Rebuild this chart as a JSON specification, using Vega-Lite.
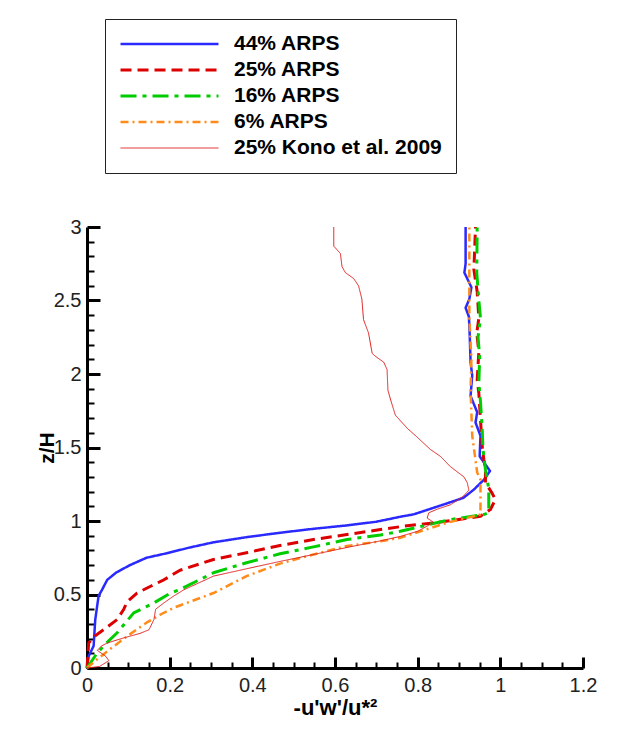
{
  "$schema": "https://vega.github.io/schema/vega-lite/v6.json",
  "width": 496,
  "height": 441,
  "autosize": "none",
  "padding": {"left": 87, "top": 227, "right": 51, "bottom": 61},
  "background": "white",
  "config": {"view": {"stroke": null}, "font": "Liberation Sans"},
  "data": {"values": [
    {"s":"44% ARPS","i":0,"x":0,"z":0},{"s":"44% ARPS","i":1,"x":0.004,"z":0.08},{"s":"44% ARPS","i":2,"x":0.016,"z":0.15},{"s":"44% ARPS","i":3,"x":0.02,"z":0.33},{"s":"44% ARPS","i":4,"x":0.028,"z":0.49},{"s":"44% ARPS","i":5,"x":0.036,"z":0.53},{"s":"44% ARPS","i":6,"x":0.049,"z":0.6},{"s":"44% ARPS","i":7,"x":0.071,"z":0.65},{"s":"44% ARPS","i":8,"x":0.104,"z":0.7},{"s":"44% ARPS","i":9,"x":0.144,"z":0.75},{"s":"44% ARPS","i":10,"x":0.192,"z":0.78},{"s":"44% ARPS","i":11,"x":0.249,"z":0.82},{"s":"44% ARPS","i":12,"x":0.306,"z":0.855},{"s":"44% ARPS","i":13,"x":0.386,"z":0.89},{"s":"44% ARPS","i":14,"x":0.467,"z":0.92},{"s":"44% ARPS","i":15,"x":0.548,"z":0.947},{"s":"44% ARPS","i":16,"x":0.629,"z":0.97},{"s":"44% ARPS","i":17,"x":0.7,"z":0.995},{"s":"44% ARPS","i":18,"x":0.76,"z":1.03},{"s":"44% ARPS","i":19,"x":0.79,"z":1.045},{"s":"44% ARPS","i":20,"x":0.839,"z":1.09},{"s":"44% ARPS","i":21,"x":0.871,"z":1.12},{"s":"44% ARPS","i":22,"x":0.911,"z":1.158},{"s":"44% ARPS","i":23,"x":0.936,"z":1.214},{"s":"44% ARPS","i":24,"x":0.96,"z":1.28},{"s":"44% ARPS","i":25,"x":0.975,"z":1.34},{"s":"44% ARPS","i":26,"x":0.95,"z":1.44},{"s":"44% ARPS","i":27,"x":0.952,"z":1.58},{"s":"44% ARPS","i":28,"x":0.94,"z":1.67},{"s":"44% ARPS","i":29,"x":0.944,"z":1.74},{"s":"44% ARPS","i":30,"x":0.928,"z":1.85},{"s":"44% ARPS","i":31,"x":0.932,"z":1.99},{"s":"44% ARPS","i":32,"x":0.928,"z":2.08},{"s":"44% ARPS","i":33,"x":0.926,"z":2.26},{"s":"44% ARPS","i":34,"x":0.924,"z":2.39},{"s":"44% ARPS","i":35,"x":0.916,"z":2.45},{"s":"44% ARPS","i":36,"x":0.925,"z":2.51},{"s":"44% ARPS","i":37,"x":0.93,"z":2.59},{"s":"44% ARPS","i":38,"x":0.913,"z":2.69},{"s":"44% ARPS","i":39,"x":0.916,"z":2.75},{"s":"44% ARPS","i":40,"x":0.916,"z":3.0},

    {"s":"25% ARPS","i":0,"x":0,"z":0},{"s":"25% ARPS","i":1,"x":0.002,"z":0.08},{"s":"25% ARPS","i":2,"x":0.004,"z":0.17},{"s":"25% ARPS","i":3,"x":0.02,"z":0.22},{"s":"25% ARPS","i":4,"x":0.04,"z":0.26},{"s":"25% ARPS","i":5,"x":0.073,"z":0.33},{"s":"25% ARPS","i":6,"x":0.089,"z":0.4},{"s":"25% ARPS","i":7,"x":0.097,"z":0.45},{"s":"25% ARPS","i":8,"x":0.121,"z":0.51},{"s":"25% ARPS","i":9,"x":0.154,"z":0.556},{"s":"25% ARPS","i":10,"x":0.186,"z":0.6},{"s":"25% ARPS","i":11,"x":0.225,"z":0.665},{"s":"25% ARPS","i":12,"x":0.306,"z":0.738},{"s":"25% ARPS","i":13,"x":0.386,"z":0.784},{"s":"25% ARPS","i":14,"x":0.467,"z":0.833},{"s":"25% ARPS","i":15,"x":0.548,"z":0.874},{"s":"25% ARPS","i":16,"x":0.629,"z":0.908},{"s":"25% ARPS","i":17,"x":0.71,"z":0.942},{"s":"25% ARPS","i":18,"x":0.767,"z":0.965},{"s":"25% ARPS","i":19,"x":0.847,"z":0.99},{"s":"25% ARPS","i":20,"x":0.911,"z":1.015},{"s":"25% ARPS","i":21,"x":0.952,"z":1.033},{"s":"25% ARPS","i":22,"x":0.976,"z":1.078},{"s":"25% ARPS","i":23,"x":0.988,"z":1.146},{"s":"25% ARPS","i":24,"x":0.98,"z":1.19},{"s":"25% ARPS","i":25,"x":0.964,"z":1.26},{"s":"25% ARPS","i":26,"x":0.964,"z":1.35},{"s":"25% ARPS","i":27,"x":0.96,"z":1.42},{"s":"25% ARPS","i":28,"x":0.956,"z":1.51},{"s":"25% ARPS","i":29,"x":0.952,"z":1.69},{"s":"25% ARPS","i":30,"x":0.948,"z":1.87},{"s":"25% ARPS","i":31,"x":0.944,"z":1.96},{"s":"25% ARPS","i":32,"x":0.948,"z":2.15},{"s":"25% ARPS","i":33,"x":0.943,"z":2.28},{"s":"25% ARPS","i":34,"x":0.948,"z":2.38},{"s":"25% ARPS","i":35,"x":0.944,"z":2.56},{"s":"25% ARPS","i":36,"x":0.936,"z":2.71},{"s":"25% ARPS","i":37,"x":0.94,"z":3.0},

    {"s":"16% ARPS","i":0,"x":0,"z":0},{"s":"16% ARPS","i":1,"x":0.024,"z":0.1},{"s":"16% ARPS","i":2,"x":0.047,"z":0.17},{"s":"16% ARPS","i":3,"x":0.073,"z":0.24},{"s":"16% ARPS","i":4,"x":0.113,"z":0.375},{"s":"16% ARPS","i":5,"x":0.162,"z":0.443},{"s":"16% ARPS","i":6,"x":0.202,"z":0.51},{"s":"16% ARPS","i":7,"x":0.225,"z":0.534},{"s":"16% ARPS","i":8,"x":0.306,"z":0.648},{"s":"16% ARPS","i":9,"x":0.386,"z":0.716},{"s":"16% ARPS","i":10,"x":0.467,"z":0.777},{"s":"16% ARPS","i":11,"x":0.548,"z":0.824},{"s":"16% ARPS","i":12,"x":0.629,"z":0.874},{"s":"16% ARPS","i":13,"x":0.71,"z":0.905},{"s":"16% ARPS","i":14,"x":0.758,"z":0.93},{"s":"16% ARPS","i":15,"x":0.879,"z":1.01},{"s":"16% ARPS","i":16,"x":0.96,"z":1.044},{"s":"16% ARPS","i":17,"x":0.972,"z":1.058},{"s":"16% ARPS","i":18,"x":0.972,"z":1.22},{"s":"16% ARPS","i":19,"x":0.964,"z":1.35},{"s":"16% ARPS","i":20,"x":0.958,"z":1.49},{"s":"16% ARPS","i":21,"x":0.956,"z":1.63},{"s":"16% ARPS","i":22,"x":0.952,"z":1.81},{"s":"16% ARPS","i":23,"x":0.948,"z":1.94},{"s":"16% ARPS","i":24,"x":0.95,"z":2.12},{"s":"16% ARPS","i":25,"x":0.946,"z":2.25},{"s":"16% ARPS","i":26,"x":0.952,"z":2.38},{"s":"16% ARPS","i":27,"x":0.948,"z":2.5},{"s":"16% ARPS","i":28,"x":0.943,"z":2.69},{"s":"16% ARPS","i":29,"x":0.944,"z":3.0},

    {"s":"6% ARPS","i":0,"x":0,"z":0},{"s":"6% ARPS","i":1,"x":0.024,"z":0.058},{"s":"6% ARPS","i":2,"x":0.065,"z":0.148},{"s":"6% ARPS","i":3,"x":0.097,"z":0.216},{"s":"6% ARPS","i":4,"x":0.145,"z":0.31},{"s":"6% ARPS","i":5,"x":0.178,"z":0.364},{"s":"6% ARPS","i":6,"x":0.21,"z":0.41},{"s":"6% ARPS","i":7,"x":0.306,"z":0.51},{"s":"6% ARPS","i":8,"x":0.386,"z":0.625},{"s":"6% ARPS","i":9,"x":0.467,"z":0.71},{"s":"6% ARPS","i":10,"x":0.548,"z":0.772},{"s":"6% ARPS","i":11,"x":0.629,"z":0.83},{"s":"6% ARPS","i":12,"x":0.71,"z":0.862},{"s":"6% ARPS","i":13,"x":0.758,"z":0.886},{"s":"6% ARPS","i":14,"x":0.871,"z":0.988},{"s":"6% ARPS","i":15,"x":0.952,"z":1.044},{"s":"6% ARPS","i":16,"x":0.952,"z":1.28},{"s":"6% ARPS","i":17,"x":0.944,"z":1.33},{"s":"6% ARPS","i":18,"x":0.932,"z":1.58},{"s":"6% ARPS","i":19,"x":0.928,"z":1.89},{"s":"6% ARPS","i":20,"x":0.93,"z":2.1},{"s":"6% ARPS","i":21,"x":0.925,"z":2.38},{"s":"6% ARPS","i":22,"x":0.925,"z":2.69},{"s":"6% ARPS","i":23,"x":0.925,"z":3.0},

    {"s":"25% Kono et al. 2009","i":0,"x":0,"z":0},{"s":"25% Kono et al. 2009","i":1,"x":0.03,"z":0.01},{"s":"25% Kono et al. 2009","i":2,"x":0.053,"z":0.05},{"s":"25% Kono et al. 2009","i":3,"x":0.045,"z":0.08},{"s":"25% Kono et al. 2009","i":4,"x":0.025,"z":0.12},{"s":"25% Kono et al. 2009","i":5,"x":0.035,"z":0.15},{"s":"25% Kono et al. 2009","i":6,"x":0.049,"z":0.17},{"s":"25% Kono et al. 2009","i":7,"x":0.089,"z":0.205},{"s":"25% Kono et al. 2009","i":8,"x":0.128,"z":0.235},{"s":"25% Kono et al. 2009","i":9,"x":0.15,"z":0.26},{"s":"25% Kono et al. 2009","i":10,"x":0.162,"z":0.33},{"s":"25% Kono et al. 2009","i":11,"x":0.166,"z":0.4},{"s":"25% Kono et al. 2009","i":12,"x":0.186,"z":0.443},{"s":"25% Kono et al. 2009","i":13,"x":0.21,"z":0.49},{"s":"25% Kono et al. 2009","i":14,"x":0.233,"z":0.53},{"s":"25% Kono et al. 2009","i":15,"x":0.306,"z":0.625},{"s":"25% Kono et al. 2009","i":16,"x":0.386,"z":0.675},{"s":"25% Kono et al. 2009","i":17,"x":0.467,"z":0.725},{"s":"25% Kono et al. 2009","i":18,"x":0.548,"z":0.772},{"s":"25% Kono et al. 2009","i":19,"x":0.629,"z":0.82},{"s":"25% Kono et al. 2009","i":20,"x":0.71,"z":0.865},{"s":"25% Kono et al. 2009","i":21,"x":0.758,"z":0.895},{"s":"25% Kono et al. 2009","i":22,"x":0.8,"z":0.93},{"s":"25% Kono et al. 2009","i":23,"x":0.839,"z":0.99},{"s":"25% Kono et al. 2009","i":24,"x":0.823,"z":1.02},{"s":"25% Kono et al. 2009","i":25,"x":0.827,"z":1.056},{"s":"25% Kono et al. 2009","i":26,"x":0.847,"z":1.08},{"s":"25% Kono et al. 2009","i":27,"x":0.879,"z":1.11},{"s":"25% Kono et al. 2009","i":28,"x":0.911,"z":1.17},{"s":"25% Kono et al. 2009","i":29,"x":0.924,"z":1.21},{"s":"25% Kono et al. 2009","i":30,"x":0.92,"z":1.26},{"s":"25% Kono et al. 2009","i":31,"x":0.912,"z":1.3},{"s":"25% Kono et al. 2009","i":32,"x":0.879,"z":1.37},{"s":"25% Kono et al. 2009","i":33,"x":0.855,"z":1.44},{"s":"25% Kono et al. 2009","i":34,"x":0.831,"z":1.486},{"s":"25% Kono et al. 2009","i":35,"x":0.795,"z":1.58},{"s":"25% Kono et al. 2009","i":36,"x":0.775,"z":1.63},{"s":"25% Kono et al. 2009","i":37,"x":0.746,"z":1.72},{"s":"25% Kono et al. 2009","i":38,"x":0.734,"z":1.83},{"s":"25% Kono et al. 2009","i":39,"x":0.728,"z":1.89},{"s":"25% Kono et al. 2009","i":40,"x":0.726,"z":2.03},{"s":"25% Kono et al. 2009","i":41,"x":0.718,"z":2.08},{"s":"25% Kono et al. 2009","i":42,"x":0.698,"z":2.12},{"s":"25% Kono et al. 2009","i":43,"x":0.69,"z":2.14},{"s":"25% Kono et al. 2009","i":44,"x":0.681,"z":2.28},{"s":"25% Kono et al. 2009","i":45,"x":0.669,"z":2.37},{"s":"25% Kono et al. 2009","i":46,"x":0.665,"z":2.51},{"s":"25% Kono et al. 2009","i":47,"x":0.657,"z":2.6},{"s":"25% Kono et al. 2009","i":48,"x":0.645,"z":2.65},{"s":"25% Kono et al. 2009","i":49,"x":0.625,"z":2.69},{"s":"25% Kono et al. 2009","i":50,"x":0.617,"z":2.73},{"s":"25% Kono et al. 2009","i":51,"x":0.613,"z":2.82},{"s":"25% Kono et al. 2009","i":52,"x":0.597,"z":2.87},{"s":"25% Kono et al. 2009","i":53,"x":0.597,"z":3.0}
  ]},
  "resolve": {"axis": {"x": "independent", "y": "independent"}},
  "layer": [
    {
      "mark": {"type": "line", "strokeJoin": "round"},
      "encoding": {
        "x": {
          "field": "x", "type": "quantitative",
          "scale": {"domain": [0, 1.2], "nice": false, "zero": false},
          "axis": {
            "orient": "bottom", "ticks": false,
            "values": [0, 0.2, 0.4, 0.6, 0.8, 1, 1.2],
            "format": "~g",
            "domainColor": "black", "domainWidth": 3, "grid": false,
            "labelFontSize": 20, "labelFont": "Liberation Sans", "labelColor": "#222", "labelPadding": 7,
            "labelFlush": false, "labelOverlap": false,
            "title": "-u'w'/u*²", "titleFontSize": 22, "titleFontWeight": "bold", "titleColor": "black", "titlePadding": 2, "titleFont": "Liberation Sans"
          }
        },
        "y": {
          "field": "z", "type": "quantitative",
          "scale": {"domain": [0, 3], "nice": false, "zero": false},
          "axis": {
            "orient": "left", "ticks": false,
            "values": [0, 0.5, 1, 1.5, 2, 2.5, 3],
            "format": "~g",
            "domainColor": "black", "domainWidth": 3, "grid": false,
            "labelFontSize": 20, "labelFont": "Liberation Sans", "labelColor": "#222", "labelPadding": 6,
            "labelFlush": false, "labelOverlap": false,
            "title": "z/H", "titleFontSize": 21, "titleFontWeight": "bold", "titleColor": "black", "titlePadding": -4, "titleFont": "Liberation Sans"
          }
        },
        "order": {"field": "i", "type": "quantitative"},
        "color": {
          "field": "s", "type": "nominal",
          "scale": {"domain": ["44% ARPS","25% ARPS","16% ARPS","6% ARPS","25% Kono et al. 2009"], "range": ["#2a2aff","#dd0000","#00cc00","#ff8c1a","#e02020"]},
          "legend": {
            "title": null, "orient": "none", "legendX": 18, "legendY": -208,
            "symbolType": "stroke", "symbolSize": 9600, "clipHeight": 22, "labelFontSize": 21, "labelFontWeight": "bold",
            "labelFont": "Liberation Sans", "labelColor": "black", "labelOffset": 14, "labelLimit": 400,
            "strokeColor": "#222", "fillColor": "white", "padding": 14, "rowPadding": 4
          }
        },
        "strokeDash": {
          "field": "s", "type": "nominal",
          "scale": {"domain": ["44% ARPS","25% ARPS","16% ARPS","6% ARPS","25% Kono et al. 2009"], "range": [[1,0],[11,6],[16,6,4,6],[8,4,2,4],[1,0]]},
          "legend": {
            "title": null, "orient": "none", "legendX": 18, "legendY": -208,
            "symbolType": "stroke", "symbolSize": 9600, "clipHeight": 22, "labelFontSize": 21, "labelFontWeight": "bold",
            "labelFont": "Liberation Sans", "labelColor": "black", "labelOffset": 14, "labelLimit": 400,
            "strokeColor": "#222", "fillColor": "white", "padding": 14, "rowPadding": 4
          }
        },
        "strokeWidth": {
          "field": "s", "type": "nominal",
          "scale": {"type": "ordinal", "domain": ["44% ARPS","25% ARPS","16% ARPS","6% ARPS","25% Kono et al. 2009"], "range": [2.5,3,3,2.5,1]},
          "legend": {
            "title": null, "orient": "none", "legendX": 18, "legendY": -208,
            "symbolType": "stroke", "symbolSize": 9600, "clipHeight": 22, "labelFontSize": 21, "labelFontWeight": "bold",
            "labelFont": "Liberation Sans", "labelColor": "black", "labelOffset": 14, "labelLimit": 400,
            "strokeColor": "#222", "fillColor": "white", "padding": 14, "rowPadding": 4
          }
        }
      }
    },
    {
      "mark": {"type": "point", "opacity": 0, "size": 1},
      "encoding": {
        "x": {
          "field": "x", "type": "quantitative",
          "scale": {"domain": [0, 1.2], "nice": false, "zero": false},
          "axis": {
            "orient": "top", "offset": -441,
            "values": [0, 0.2, 0.4, 0.6, 0.8, 1, 1.2],
            "labels": false, "domain": false, "grid": false, "title": null,
            "ticks": true, "tickSize": 11, "tickWidth": 3, "tickColor": "black"
          }
        },
        "y": {
          "field": "z", "type": "quantitative",
          "scale": {"domain": [0, 3], "nice": false, "zero": false},
          "axis": {
            "orient": "right", "offset": -496,
            "values": [0, 0.5, 1, 1.5, 2, 2.5, 3],
            "labels": false, "domain": false, "grid": false, "title": null,
            "ticks": true, "tickSize": 13, "tickWidth": 3, "tickColor": "black"
          }
        }
      }
    },
    {
      "mark": {"type": "point", "opacity": 0, "size": 1},
      "encoding": {
        "x": {
          "field": "x", "type": "quantitative",
          "scale": {"domain": [0, 1.2], "nice": false, "zero": false},
          "axis": {
            "orient": "top", "offset": -441,
            "values": [0.05,0.1,0.15,0.25,0.3,0.35,0.45,0.5,0.55,0.65,0.7,0.75,0.85,0.9,0.95,1.05,1.1,1.15],
            "labels": false, "domain": false, "grid": false, "title": null,
            "ticks": true, "tickSize": 6, "tickWidth": 2, "tickColor": "black"
          }
        },
        "y": {
          "field": "z", "type": "quantitative",
          "scale": {"domain": [0, 3], "nice": false, "zero": false},
          "axis": {
            "orient": "right", "offset": -496,
            "values": [0.1,0.2,0.3,0.4,0.6,0.7,0.8,0.9,1.1,1.2,1.3,1.4,1.6,1.7,1.8,1.9,2.1,2.2,2.3,2.4,2.6,2.7,2.8,2.9],
            "labels": false, "domain": false, "grid": false, "title": null,
            "ticks": true, "tickSize": 7, "tickWidth": 2, "tickColor": "black"
          }
        }
      }
    }
  ]
}
